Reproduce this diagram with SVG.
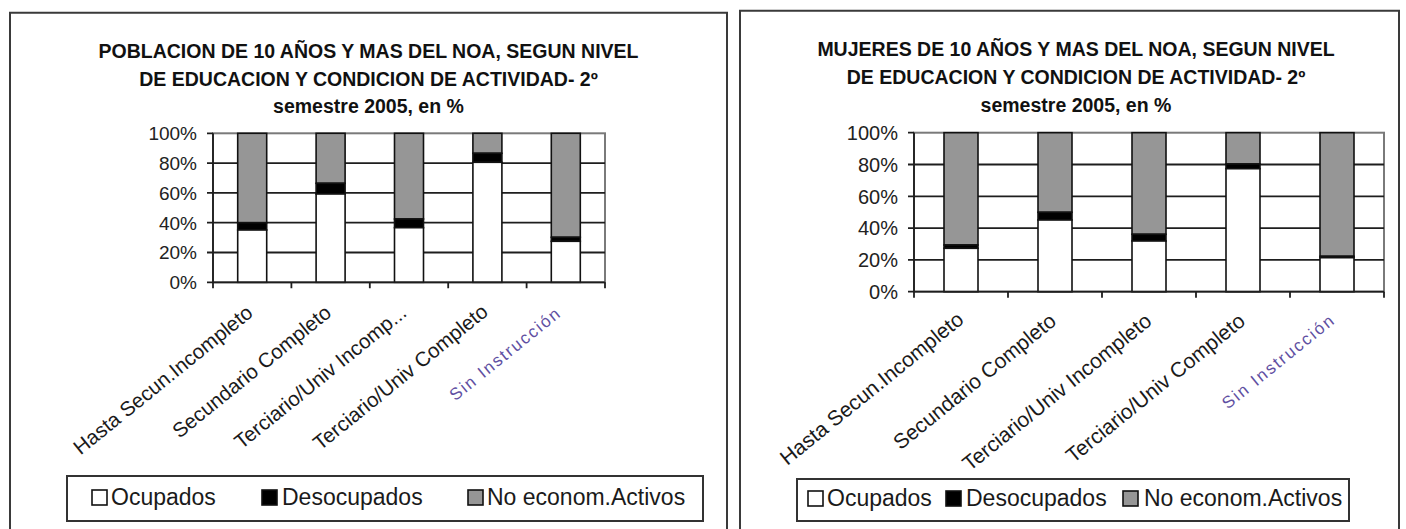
<svg xmlns="http://www.w3.org/2000/svg" width="1406" height="529" viewBox="0 0 1406 529">
<style>
.frame{fill:none;stroke:#3a3a3a;stroke-width:2}
.t{font-family:"Liberation Sans",Arial,sans-serif;font-weight:bold;font-size:19.5px;fill:#111;text-anchor:middle}
.yl{font-family:"Liberation Sans",Arial,sans-serif;font-size:19px;fill:#222;text-anchor:end}
.yr{font-family:"Liberation Sans",Arial,sans-serif;font-size:20px;fill:#222;text-anchor:end}
.xl{font-family:"Liberation Sans",Arial,sans-serif;font-size:20.5px;fill:#1a1a1a;text-anchor:end}
.xr{font-family:"Liberation Sans",Arial,sans-serif;font-size:21px;fill:#1a1a1a;text-anchor:end}
.sin{fill:#5f50a2;font-size:17px}
.lg{font-family:"Liberation Sans",Arial,sans-serif;font-size:23px;fill:#1a1a1a}
.plot{fill:#fff;stroke:#7a7a7a;stroke-width:2}
.grid{stroke:#1e1e1e;stroke-width:1.8}
.axis{stroke:#1e1e1e;stroke-width:1.8;fill:none}
.o{fill:#fff;stroke:#111;stroke-width:1.6}
.d{fill:#000;stroke:#111;stroke-width:1.6}
.n{fill:#969696;stroke:#111;stroke-width:1.6}
.lbox{fill:#fff;stroke:#333;stroke-width:2}
</style>

<!-- LEFT CHART -->
<g id="chart-left">
  <path class="frame" d="M10,530 V12.7 H727 V530"/>
  <g id="title-left">
    <text class="t" x="368.5" y="58">POBLACION DE 10 AÑOS Y MAS DEL NOA, SEGUN NIVEL</text>
    <text class="t" x="368.5" y="86">DE EDUCACION Y CONDICION DE ACTIVIDAD- 2º</text>
    <text class="t" x="368.5" y="113">semestre 2005, en %</text>
  </g>
  <g id="plot-left">
    <rect class="plot" x="213" y="133.3" width="392" height="149"/>
    <g class="grid">
      <line x1="213" y1="163.1" x2="605" y2="163.1"/>
      <line x1="213" y1="192.9" x2="605" y2="192.9"/>
      <line x1="213" y1="222.7" x2="605" y2="222.7"/>
      <line x1="213" y1="252.5" x2="605" y2="252.5"/>
    </g>
    <g id="bars-left">
      <g id="l-bar1"><rect class="n" x="237.7" y="133.3" width="29" height="89.4"/><rect class="d" x="237.7" y="222.7" width="29" height="7.3"/><rect class="o" x="237.7" y="230" width="29" height="52.3"/></g>
      <g id="l-bar2"><rect class="n" x="316.1" y="133.3" width="29" height="50"/><rect class="d" x="316.1" y="183.3" width="29" height="10.7"/><rect class="o" x="316.1" y="194" width="29" height="88.3"/></g>
      <g id="l-bar3"><rect class="n" x="394.5" y="133.3" width="29" height="85.7"/><rect class="d" x="394.5" y="219" width="29" height="8.7"/><rect class="o" x="394.5" y="227.7" width="29" height="54.6"/></g>
      <g id="l-bar4"><rect class="n" x="472.9" y="133.3" width="29" height="20"/><rect class="d" x="472.9" y="153.3" width="29" height="9"/><rect class="o" x="472.9" y="162.3" width="29" height="120"/></g>
      <g id="l-bar5"><rect class="n" x="551.3" y="133.3" width="29" height="104"/><rect class="d" x="551.3" y="237.3" width="29" height="4"/><rect class="o" x="551.3" y="241.3" width="29" height="41"/></g>
    </g>
    <path class="axis" d="M213,133.3 V282.3 H605 M207,133.3 H213 M207,163.1 H213 M207,192.9 H213 M207,222.7 H213 M207,252.5 H213 M207,282.3 H213 M213,282.3 V288.3 M291.4,282.3 V288.3 M369.8,282.3 V288.3 M448.2,282.3 V288.3 M526.6,282.3 V288.3 M605,282.3 V288.3"/>
    <g id="yaxis-left">
      <text class="yl" x="197" y="140">100%</text>
      <text class="yl" x="197" y="170">80%</text>
      <text class="yl" x="197" y="199.7">60%</text>
      <text class="yl" x="197" y="229.5">40%</text>
      <text class="yl" x="197" y="259.3">20%</text>
      <text class="yl" x="197" y="289.1">0%</text>
    </g>
    <g id="xaxis-left">
      <text class="xl" transform="translate(254.2,315) rotate(-39)">Hasta Secun.Incompleto</text>
      <text class="xl" transform="translate(332.6,315) rotate(-39)">Secundario Completo</text>
      <text class="xl" transform="translate(408,315) rotate(-39)">Terciario/Univ Incomp...</text>
      <text class="xl" transform="translate(489.4,314) rotate(-39)">Terciario/Univ Completo</text>
      <text class="xl sin" transform="translate(561,316) rotate(-39)" textLength="136" lengthAdjust="spacing">Sin Instrucción</text>
    </g>
  </g>
  <g id="legend-left">
    <rect class="lbox" x="67" y="476" width="636" height="45"/>
    <rect class="o" x="92" y="490" width="15" height="15"/>
    <text class="lg" x="111" y="505">Ocupados</text>
    <rect class="d" x="262" y="490" width="15" height="15"/>
    <text class="lg" x="282" y="505">Desocupados</text>
    <rect class="n" x="468" y="490" width="15" height="15"/>
    <text class="lg" x="487" y="505">No econom.Activos</text>
  </g>
</g>

<!-- RIGHT CHART -->
<g id="chart-right">
  <path class="frame" d="M740,530 V10.7 H1399 V530"/>
  <g id="title-right">
    <text class="t" x="1076" y="56">MUJERES DE 10 AÑOS Y MAS DEL NOA, SEGUN NIVEL</text>
    <text class="t" x="1076" y="84">DE EDUCACION Y CONDICION DE ACTIVIDAD- 2º</text>
    <text class="t" x="1076" y="112">semestre 2005, en %</text>
  </g>
  <g id="plot-right">
    <rect class="plot" x="914" y="132.7" width="470" height="159"/>
    <g class="grid">
      <line x1="914" y1="164.5" x2="1384" y2="164.5"/>
      <line x1="914" y1="196.3" x2="1384" y2="196.3"/>
      <line x1="914" y1="228.1" x2="1384" y2="228.1"/>
      <line x1="914" y1="259.9" x2="1384" y2="259.9"/>
    </g>
    <g id="bars-right">
      <g id="r-bar1"><rect class="n" x="944" y="132.7" width="34" height="112.3"/><rect class="d" x="944" y="245" width="34" height="3.3"/><rect class="o" x="944" y="248.3" width="34" height="43.4"/></g>
      <g id="r-bar2"><rect class="n" x="1038" y="132.7" width="34" height="79.6"/><rect class="d" x="1038" y="212.3" width="34" height="7.7"/><rect class="o" x="1038" y="220" width="34" height="71.7"/></g>
      <g id="r-bar3"><rect class="n" x="1132" y="132.7" width="34" height="101.6"/><rect class="d" x="1132" y="234.3" width="34" height="6.7"/><rect class="o" x="1132" y="241" width="34" height="50.7"/></g>
      <g id="r-bar4"><rect class="n" x="1226" y="132.7" width="34" height="31.3"/><rect class="d" x="1226" y="164" width="34" height="4.7"/><rect class="o" x="1226" y="168.7" width="34" height="123"/></g>
      <g id="r-bar5"><rect class="n" x="1320" y="132.7" width="34" height="123.6"/><rect class="d" x="1320" y="256.3" width="34" height="1.4"/><rect class="o" x="1320" y="257.7" width="34" height="34"/></g>
    </g>
    <path class="axis" d="M914,132.7 V291.7 H1384 M908,132.7 H914 M908,164.5 H914 M908,196.3 H914 M908,228.1 H914 M908,259.9 H914 M908,291.7 H914 M914,291.7 V297.7 M1008,291.7 V297.7 M1102,291.7 V297.7 M1196,291.7 V297.7 M1290,291.7 V297.7 M1384,291.7 V297.7"/>
    <g id="yaxis-right">
      <text class="yr" x="898" y="139.9">100%</text>
      <text class="yr" x="898" y="171.7">80%</text>
      <text class="yr" x="898" y="203.5">60%</text>
      <text class="yr" x="898" y="235.3">40%</text>
      <text class="yr" x="898" y="267.1">20%</text>
      <text class="yr" x="898" y="298.9">0%</text>
    </g>
    <g id="xaxis-right">
      <text class="xr" transform="translate(965,322) rotate(-39)">Hasta Secun.Incompleto</text>
      <text class="xr" transform="translate(1057.5,323.5) rotate(-39)">Secundario Completo</text>
      <text class="xr" transform="translate(1153,323.5) rotate(-39)">Terciario/Univ Incompleto</text>
      <text class="xr" transform="translate(1246.5,323.5) rotate(-39)">Terciario/Univ Completo</text>
      <text class="xr sin" transform="translate(1335,323) rotate(-39)" textLength="138" lengthAdjust="spacing">Sin Instrucción</text>
    </g>
  </g>
  <g id="legend-right">
    <rect class="lbox" x="797" y="479" width="552" height="42"/>
    <rect class="o" x="808" y="491" width="15" height="15"/>
    <text class="lg" x="827" y="506">Ocupados</text>
    <rect class="d" x="946" y="491" width="15" height="15"/>
    <text class="lg" x="966" y="506">Desocupados</text>
    <rect class="n" x="1123" y="491" width="15" height="15"/>
    <text class="lg" x="1144" y="506">No econom.Activos</text>
  </g>
</g>
</svg>
